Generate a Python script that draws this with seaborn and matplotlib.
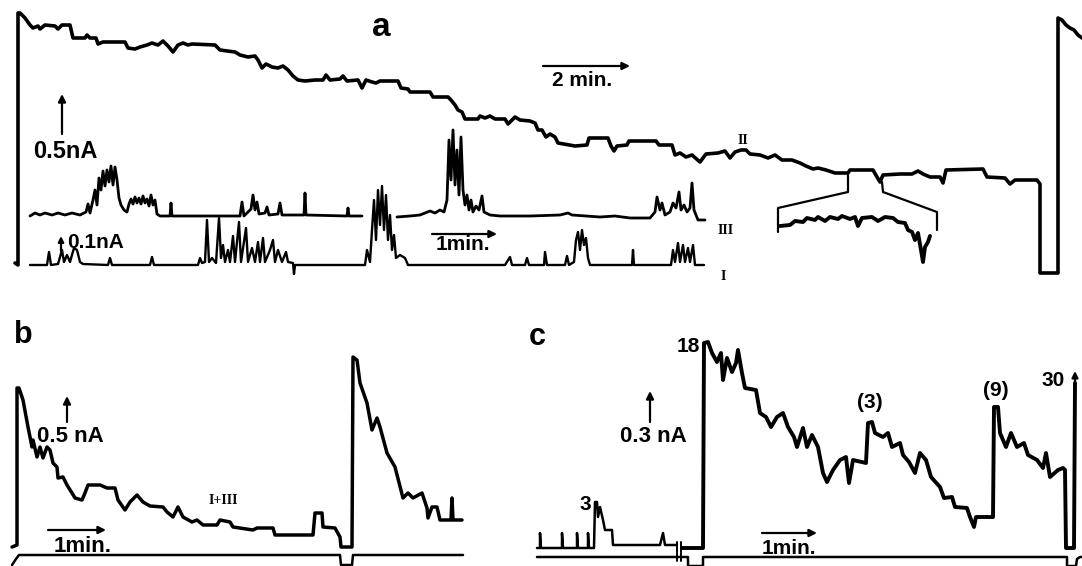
import matplotlib
matplotlib.use("Agg")
import matplotlib.pyplot as plt
import seaborn as sns

# chart time (recorder units) vs current above each trace's baseline (recorder units)
# ---- panel a ----
trace_II = [(15, 7), (18, 5), (18, 257), (20, 257), (25, 252), (30, 245), (33, 242), (38, 244), (40, 241),
            (45, 245), (55, 244), (58, 241), (62, 245), (70, 245), (73, 232), (85, 232), (87, 235), (90, 232),
            (96, 232), (98, 226), (103, 228), (125, 228), (128, 222), (135, 221), (140, 223), (147, 225),
            (152, 227), (158, 225), (163, 229), (168, 224), (173, 218), (178, 225), (183, 227), (188, 225),
            (192, 226), (215, 225), (220, 220), (235, 218), (240, 215), (248, 213), (255, 214), (258, 210),
            (262, 202), (266, 206), (272, 203), (278, 202), (283, 204), (288, 200), (293, 194), (298, 190),
            (305, 189), (315, 190), (323, 190), (326, 195), (330, 190), (340, 191), (343, 194), (347, 189),
            (358, 190), (362, 182), (366, 190), (372, 188), (376, 187), (380, 189), (398, 189), (401, 182),
            (408, 181), (410, 178), (430, 178), (433, 173), (448, 173), (451, 170), (455, 165), (458, 160),
            (462, 158), (465, 151), (478, 151), (480, 154), (485, 152), (490, 154), (495, 151), (505, 151),
            (508, 146), (512, 150), (515, 153), (520, 150), (530, 149), (535, 147), (538, 140), (542, 140),
            (546, 133), (550, 136), (555, 133), (558, 127), (575, 124), (587, 125), (589, 132), (608, 132),
            (611, 124), (614, 119), (617, 124), (627, 125), (629, 129), (656, 129), (659, 125), (672, 125),
            (675, 115), (680, 117), (686, 113), (692, 115), (700, 108), (706, 116), (718, 117), (725, 119),
            (730, 112), (735, 118), (741, 120), (746, 120), (750, 116), (760, 115), (768, 112), (775, 115),
            (782, 110), (792, 110), (800, 107), (806, 104), (813, 101), (818, 102), (826, 100), (835, 97),
            (848, 97), (850, 100), (873, 100), (877, 93), (880, 88), (883, 95), (900, 96), (912, 96),
            (918, 99), (923, 96), (930, 93), (940, 93), (943, 87), (946, 100), (983, 101), (987, 93),
            (1005, 92), (1010, 86), (1015, 90), (1037, 90), (1040, 86), (1040, -3), (1058, -3), (1058, 252),
            (1062, 250), (1066, 245), (1070, 242), (1074, 240), (1078, 235), (1082, 232)]

trace_III_first = [(30, 54), (35, 57), (40, 55), (45, 57), (52, 55), (58, 57), (65, 55), (72, 57), (80, 55),
                   (86, 58), (88, 66), (90, 57), (93, 70), (95, 80), (97, 65), (99, 92), (101, 80), (103, 99),
                   (105, 84), (107, 100), (109, 88), (111, 104), (113, 85), (115, 103), (117, 90), (119, 72),
                   (121, 65), (124, 60), (127, 58), (129, 66), (131, 71), (133, 66), (135, 73), (137, 67),
                   (139, 72), (141, 66), (143, 74), (145, 67), (147, 71), (149, 64), (151, 75), (153, 65),
                   (155, 70), (157, 56), (160, 54), (170, 54), (171, 67), (172, 54), (240, 54), (242, 68),
                   (244, 54), (248, 58), (251, 61), (253, 75), (255, 60), (257, 68), (259, 56), (265, 57),
                   (267, 63), (269, 55), (278, 56), (280, 67), (282, 55), (304, 55), (305, 77), (306, 55),
                   (347, 54), (348, 62), (349, 54), (362, 54)]
trace_III_second = [(397, 53), (410, 54), (420, 55), (425, 57), (430, 59), (435, 57), (440, 60), (444, 58),
                    (447, 70), (449, 130), (451, 90), (453, 140), (455, 85), (457, 120), (459, 75), (461, 133),
                    (463, 80), (465, 65), (467, 75), (469, 60), (471, 70), (473, 58), (476, 64), (479, 60),
                    (482, 74), (484, 58), (490, 55), (500, 54), (530, 54), (560, 55), (568, 57), (572, 55),
                    (600, 53), (615, 54), (630, 52), (650, 52), (655, 58), (657, 73), (660, 60), (662, 67),
                    (665, 55), (670, 58), (673, 67), (676, 62), (679, 78), (681, 60), (684, 65), (687, 58),
                    (690, 62), (692, 87), (694, 60), (698, 50), (705, 50)]
trace_I = [(30, 5), (47, 5), (49, 18), (51, 5), (58, 6), (62, 20), (64, 8), (67, 15), (70, 8), (74, 22),
           (77, 20), (80, 8), (83, 6), (108, 5), (110, 12), (112, 5), (150, 5), (152, 13), (154, 5), (198, 5),
           (200, 12), (202, 7), (205, 8), (207, 50), (209, 8), (212, 12), (216, 7), (219, 52), (221, 12),
           (223, 25), (225, 8), (228, 20), (230, 8), (233, 34), (235, 8), (239, 48), (241, 8), (246, 42),
           (248, 8), (252, 22), (255, 8), (258, 28), (260, 8), (263, 32), (265, 8), (270, 20), (273, 30),
           (275, 8), (278, 20), (282, 8), (286, 18), (288, 8), (293, 7), (294, -4), (295, 5), (365, 5),
           (367, 20), (370, 8), (372, 40), (374, 70), (376, 30), (378, 80), (380, 45), (382, 84), (384, 40),
           (386, 75), (388, 30), (390, 55), (392, 20), (394, 35), (396, 12), (400, 15), (405, 12), (408, 5),
           (505, 5), (510, 13), (512, 5), (525, 5), (527, 12), (529, 5), (544, 5), (545, 18), (547, 5),
           (565, 5), (567, 14), (569, 5), (574, 8), (576, 30), (578, 38), (580, 20), (582, 40), (584, 25),
           (586, 32), (588, 12), (590, 5), (632, 5), (633, 20), (634, 5), (671, 5), (673, 20), (675, 8),
           (678, 27), (680, 8), (683, 25), (685, 8), (688, 22), (690, 8), (693, 25), (695, 5), (704, 5)]

zoom_left = [(848, 95), (848, 78), (778, 62), (778, 38)]
zoom_right = [(882, 88), (883, 78), (937, 58), (937, 40)]
zoom_trace = [(780, 44), (790, 45), (795, 49), (803, 48), (807, 52), (815, 50), (818, 53), (825, 49),
              (830, 53), (838, 51), (842, 54), (850, 51), (855, 53), (858, 44), (862, 52), (872, 53),
              (878, 49), (885, 53), (893, 52), (898, 48), (905, 47), (908, 40), (912, 38), (915, 30),
              (918, 37), (921, 20), (923, 8), (925, 23), (928, 28), (930, 34)]

# ---- panel b ----
trace_b = [(12, 0), (17, 2), (17, 159), (19, 159), (23, 147), (28, 120), (32, 100), (33, 107), (37, 90),
           (40, 100), (43, 89), (47, 100), (50, 97), (53, 84), (57, 80), (58, 69), (63, 70), (67, 62),
           (72, 54), (75, 49), (82, 47), (85, 54), (88, 62), (100, 62), (107, 59), (115, 59), (118, 47),
           (125, 37), (130, 45), (137, 52), (143, 45), (150, 41), (163, 40), (167, 35), (173, 30),
           (178, 40), (183, 30), (192, 25), (197, 27), (203, 22), (217, 22), (220, 27), (230, 25),
           (233, 20), (253, 17), (257, 19), (273, 19), (275, 12), (313, 12), (315, 34), (322, 34),
           (323, 20), (335, 19), (340, 10), (341, 0), (352, 0), (353, 190), (357, 187), (360, 164),
           (367, 144), (372, 117), (377, 129), (380, 120), (387, 94), (395, 80), (403, 49), (408, 54),
           (413, 49), (422, 54), (427, 39), (428, 29), (432, 40), (437, 40), (440, 27), (451, 27),
           (452, 49), (453, 27), (462, 27)]
stim_b = [(12, -18), (16, -12), (19, -8), (340, -8), (341, -18), (352, -18), (353, -8), (463, -8)]

# ---- panel c ----
trace_c_pre = [(37, 0), (40, 0), (40, 15), (41, 0), (62, 0), (62, 15), (63, 0), (77, 0), (77, 15), (78, 0),
               (88, 0), (88, 15), (89, 0), (94, 0), (95, 46), (97, 46), (98, 31), (100, 41), (103, 28),
               (105, 18), (112, 18), (113, 3), (160, 3), (163, 15), (165, 3), (177, 3)]
trace_c = [(182, 0), (203, 0), (204, 205), (208, 206), (212, 195), (217, 186), (221, 195), (223, 168),
           (227, 190), (232, 176), (236, 185), (238, 198), (242, 175), (245, 160), (256, 158), (260, 135),
           (266, 131), (271, 121), (277, 131), (283, 135), (288, 121), (294, 111), (297, 101), (303, 120),
           (307, 101), (312, 113), (318, 101), (323, 75), (327, 66), (333, 78), (340, 88), (346, 91),
           (349, 65), (353, 88), (366, 85), (368, 125), (372, 126), (375, 115), (383, 111), (388, 115),
           (392, 101), (400, 105), (403, 93), (409, 86), (415, 75), (420, 95), (426, 88), (431, 71),
           (440, 61), (444, 50), (452, 51), (455, 41), (467, 40), (470, 31), (474, 21), (476, 31),
           (493, 31), (494, 141), (498, 141), (500, 115), (506, 101), (511, 115), (517, 101), (524, 105),
           (528, 93), (537, 88), (543, 80), (546, 95), (550, 71), (558, 78), (563, 80), (565, 78),
           (566, 0), (574, 0), (575, 165)]
stim_c = [(37, -9), (188, -9), (188, -18), (203, -18), (203, -9), (567, -9), (567, -18), (576, -18),
          (577, -11), (580, -9), (582, -9)]

sns.set_theme(style="white")
plt.rcParams['font.family'] = ['Liberation Sans', 'DejaVu Sans']

W, H = 1082, 566
fig = plt.figure(figsize=(W / 100, H / 100), dpi=100)


def panel(x0, x1, y0, y1, xlim, ylim):
    ax = fig.add_axes([x0 / W, 1 - y1 / H, (x1 - x0) / W, (y1 - y0) / H])
    ax.set_xlim(*xlim)
    ax.set_ylim(*ylim)
    ax.axis('off')
    return ax


def trace(ax, pts, lw):
    t, i = zip(*pts)
    sns.lineplot(x=list(t), y=list(i), sort=False, estimator=None, color='black',
                 lw=lw, ax=ax, clip_on=False)


def arrow(ax, start, end, lw=1.6, ms=11):
    ax.annotate('', xy=end, xytext=start,
                arrowprops=dict(arrowstyle='-|>', color='black', lw=lw, mutation_scale=ms,
                                shrinkA=0, shrinkB=0))


bold = dict(color='black', fontweight='bold', ha='center', va='center')
roman = dict(color='black', fontweight='bold', family='Liberation Serif', fontsize=10, ha='center', va='center')

# ---- panel a ----
ax_a = panel(0, 1082, 0, 285, (0, 1082), (-15, 270))
trace(ax_a, trace_II, 2.6)
trace(ax_a, trace_III_first, 2.0)
trace(ax_a, trace_III_second, 2.0)
trace(ax_a, trace_I, 1.7)
trace(ax_a, zoom_left, 1.6)
trace(ax_a, zoom_right, 1.6)
trace(ax_a, zoom_trace, 2.8)

ax_a.text(381, 243, 'a', fontsize=24, **bold)
arrow(ax_a, (543, 204), (630, 204))
ax_a.text(582, 189, '2 min.', fontsize=15, **bold)
arrow(ax_a, (62, 136), (62, 176))
ax_a.text(65, 118, '0.5nA', fontsize=17, **bold)
arrow(ax_a, (61, 19), (61, 34), ms=8)
ax_a.text(67, 27, '0.1nA', fontsize=15, color='black', fontweight='bold', ha='left', va='center')
arrow(ax_a, (432, 36), (497, 36))
ax_a.text(463, 25, '1min.', fontsize=15, **bold)
ax_a.text(743, 130, 'II', **roman)
ax_a.text(726, 40, 'III', **roman)
ax_a.text(723, -7, 'I', **roman)

# ---- panel b ----
ax_b = panel(0, 480, 300, 566, (0, 480), (-19, 247))
trace(ax_b, trace_b, 2.5)
trace(ax_b, stim_b, 1.8)
ax_b.text(23, 212, 'b', fontsize=22, **bold)
arrow(ax_b, (67, 125), (67, 151))
ax_b.text(70, 110, '0.5 nA', fontsize=16, **bold)
ax_b.text(223, 47, 'I+III', **roman)
arrow(ax_b, (48, 17), (106, 17))
ax_b.text(83, 1, '1min.', fontsize=16, **bold)

# ---- panel c ----
ax_c = panel(500, 1082, 300, 566, (0, 582), (-18, 248))
trace(ax_c, trace_c_pre, 1.8)
trace(ax_c, trace_c, 2.8)
trace(ax_c, stim_c, 1.8)
for tb in (177, 181):
    ax_c.plot([tb, tb], [-4, 6], color='black', lw=1.4)
    ax_c.plot([tb, tb], [-13, -5], color='black', lw=1.4)
arrow(ax_c, (575, 160), (575, 177), ms=9)
ax_c.text(37, 211, 'c', fontsize=22, **bold)
ax_c.text(188, 202, '18', fontsize=15, **bold)
ax_c.text(85, 43, '3', fontsize=15, **bold)
arrow(ax_c, (150, 126), (150, 157))
ax_c.text(153, 111, '0.3 nA', fontsize=16, **bold)
ax_c.text(370, 145, '(3)', fontsize=15, **bold)
ax_c.text(496, 158, '(9)', fontsize=15, **bold)
ax_c.text(553, 168, '30', fontsize=15, **bold)
arrow(ax_c, (262, 15), (317, 15))
ax_c.text(289, 0, '1min.', fontsize=15, **bold)

fig.savefig('out.png', dpi=100)
